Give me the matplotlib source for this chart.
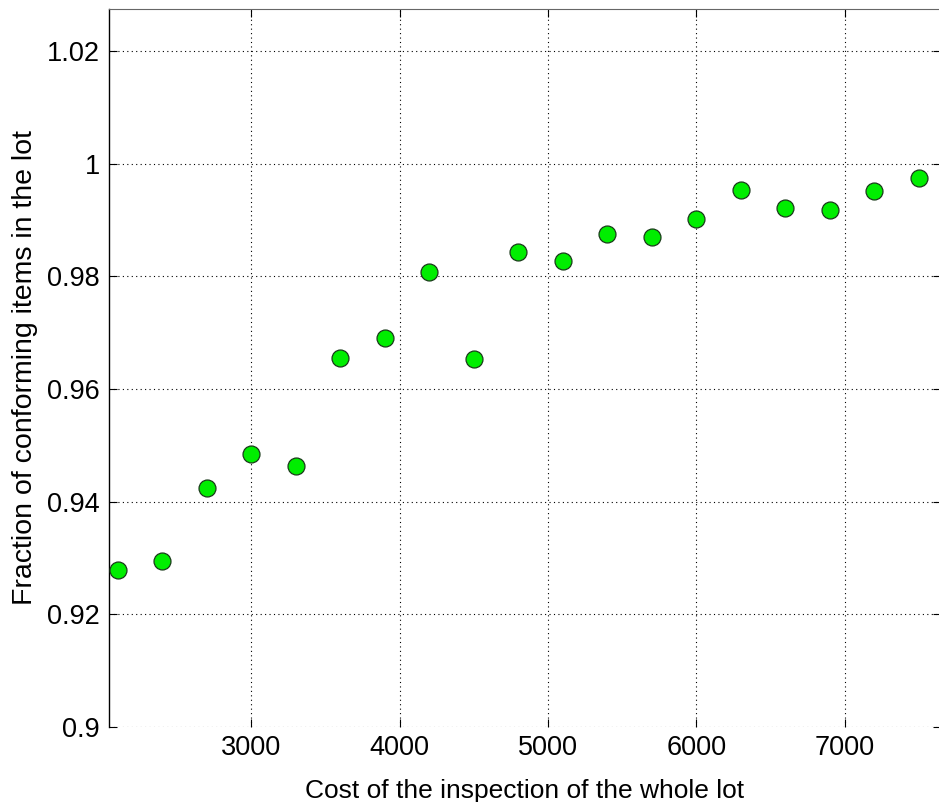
import numpy as np
import matplotlib.pyplot as plt

# inspection cost vs fraction of conforming items
cost = [2100, 2400, 2700, 3000, 3300, 3600, 3900, 4200, 4500, 4800,
        5100, 5400, 5700, 6000, 6300, 6600, 6900, 7200, 7500]
fraction = [0.9278, 0.9294, 0.9425, 0.9485, 0.9464, 0.9655, 0.9691, 0.9808, 0.9654, 0.9843,
            0.9827, 0.9875, 0.9870, 0.9902, 0.9953, 0.9921, 0.9918, 0.9951, 0.9974]

xticks = [3000, 4000, 5000, 6000, 7000]
yticks = [0.9, 0.92, 0.94, 0.96, 0.98, 1.0, 1.02]
ytick_labels = ["0.9", "0.92", "0.94", "0.96", "0.98", "1", "1.02"]

plt.rcParams['font.family'] = ['Liberation Sans', 'DejaVu Sans']

fig = plt.figure(figsize=(9.39, 8.02), dpi=100)
ax = fig.add_axes([0.1166, 0.0935, 0.885, 0.8955])

ax.plot(cost, fraction, linestyle='none', marker='o', markersize=12.2,
        markerfacecolor='#00ee00', markeredgecolor='#1a3a1a', markeredgewidth=0.9,
        zorder=3)

ax.set_xlim(2046, 7645)
ax.set_ylim(0.9, 1.0275)
ax.set_xticks(xticks)
ax.set_yticks(yticks)
ax.set_yticklabels(ytick_labels)

ax.grid(True, linestyle=(0, (1, 3)), color='black', linewidth=0.8)
ax.tick_params(direction='in', length=6, labelsize=19.5, top=True, right=True,
               width=0.8)
ax.tick_params(axis='y', pad=7)
ax.tick_params(axis='x', pad=6)

ax.spines['bottom'].set_visible(False)
ax.spines['top'].set_color('#666666')
ax.spines['left'].set_linewidth(1.0)

ax.set_xlabel("Cost of the inspection of the whole lot", fontsize=19)
ax.set_ylabel("Fraction of conforming items in the lot", fontsize=20.5)
ax.xaxis.set_label_coords(0.5, -0.073)
ax.yaxis.set_label_coords(-0.086, 0.5)

fig.savefig("out.png", dpi=100)
